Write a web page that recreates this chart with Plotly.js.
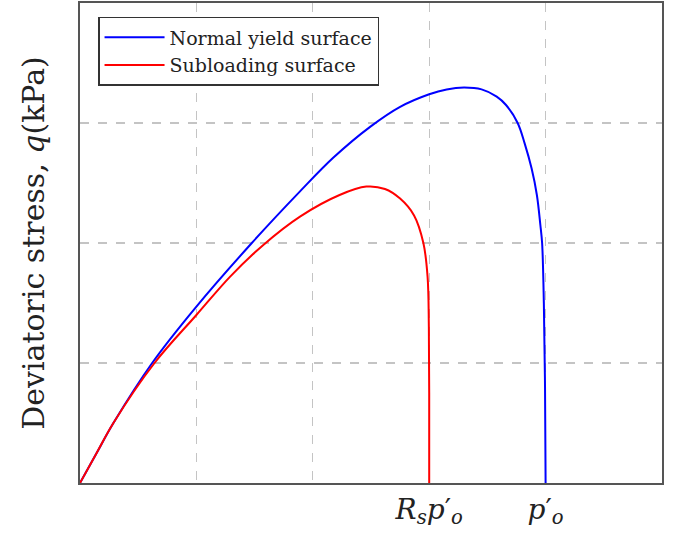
<!DOCTYPE html>
<html>
<head>
<meta charset="utf-8">
<script src="https://cdn.plot.ly/plotly-3.0.1.min.js"></script>
<style>html,body{margin:0;padding:0;background:#fff;}#chart{width:681px;height:537px;}</style>
</head>
<body>
<div id="chart"></div>
<script>
// Normal yield surface (p, q)
var normalP = [0, 0.143, 0.287, 0.62, 1.0, 1.476, 1.89, 2.175, 2.495, 2.75, 3.0, 3.15, 3.30, 3.45, 3.58, 3.66, 3.76, 3.82, 3.88, 3.925, 3.955, 3.97, 3.985, 3.995, 4.0];
var normalQ = [0, 0.25, 0.50, 1.0, 1.47, 2.0, 2.43, 2.71, 2.97, 3.135, 3.24, 3.28, 3.295, 3.28, 3.22, 3.15, 3.0, 2.83, 2.62, 2.40, 2.15, 2.0, 1.5, 0.8, 0];
// Subloading surface (p, q)
var subP = [0, 0.143, 0.287, 0.64, 1.0, 1.29, 1.57, 1.89, 2.23, 2.46, 2.62, 2.75, 2.87, 2.95, 2.986, 2.997, 3.0, 3.0];
var subQ = [0, 0.25, 0.50, 1.0, 1.40, 1.72, 1.98, 2.22, 2.40, 2.47, 2.45, 2.37, 2.23, 2.0, 1.72, 1.30, 0.75, 0];
var seriesNames = ['Normal yield surface', 'Subloading surface'];
var xTickVals = [1, 2, 3, 4];
var xTickText = ['', '', '<i>R</i><sub><i>s</i></sub><i>p</i>′<sub><i>o</i></sub>', '<i>p</i>′<sub><i>o</i></sub>'];
var yTickVals = [1, 2, 3];
var yTickText = ['', '', ''];

var serif = 'DejaVu Serif, Liberation Serif, serif';
var traces = [
  {x: normalP, y: normalQ, mode: 'lines', name: seriesNames[0], line: {color: '#0000ff', width: 2, shape: 'spline', smoothing: 1}},
  {x: subP, y: subQ, mode: 'lines', name: seriesNames[1], line: {color: '#ff0000', width: 2, shape: 'spline', smoothing: 1}}
];
var layout = {
  width: 681, height: 537,
  margin: {l: 80, r: 19, t: 3, b: 54},
  paper_bgcolor: '#fff', plot_bgcolor: '#fff',
  showlegend: true,
  legend: {x: 0.031, y: 0.971, xanchor: 'left', yanchor: 'top', bgcolor: '#fff', bordercolor: '#333', borderwidth: 1.5,
           font: {family: serif, size: 19, color: '#222'}, itemwidth: 60, tracegroupgap: 0},
  xaxis: {range: [0, 5], tickvals: xTickVals, ticktext: xTickText, ticks: '', showgrid: true, gridcolor: '#c4c4c4',
          griddash: 'dash', gridwidth: 1.2, zeroline: false, showline: true, mirror: true, linecolor: '#555', linewidth: 2,
          tickfont: {family: serif, size: 28, color: '#222'}, fixedrange: true},
  yaxis: {range: [0, 4], tickvals: yTickVals, ticktext: yTickText, ticks: '', showgrid: true, gridcolor: '#c4c4c4',
          griddash: 'dash', gridwidth: 1.2, zeroline: false, showline: true, mirror: true, linecolor: '#555', linewidth: 2,
          title: {text: 'Deviatoric stress, <i>q</i>(kPa)', font: {family: serif, size: 30, color: '#222'}, standoff: 22},
          fixedrange: true}
};
Plotly.newPlot('chart', traces, layout, {displayModeBar: false, staticPlot: true});
</script>
</body>
</html>
